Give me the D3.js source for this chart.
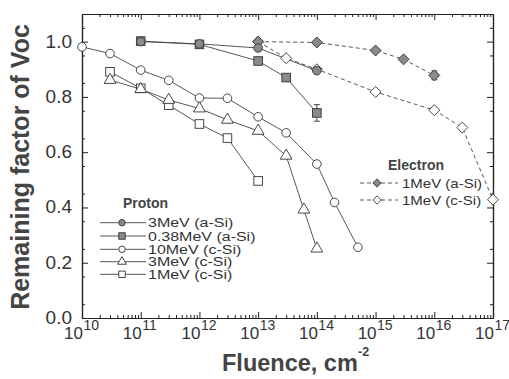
<!DOCTYPE html>
<html>
<head>
<meta charset="utf-8">
<script src="https://cdn.jsdelivr.net/npm/d3@7"></script>
<style>
  body { margin: 0; background: #fff; }
  text { font-family: Arial, "Liberation Sans", sans-serif; fill: #333; }
</style>
</head>
<body>
<div id="chart"></div>
<script>
// proton series
const p3MeVaSiX = [1e11, 1e12, 1e13, 1e14]
const p3MeVaSiY = [1.0, 0.992, 0.977, 0.895]
const p038MeVaSiX = [1e11, 1e12, 1e13, 3e13, 1e14]
const p038MeVaSiY = [1.002, 0.99, 0.93, 0.87, 0.742]
const p10MeVcSiX = [1e10, 3e10, 1e11, 3e11, 1e12, 3e12, 1e13, 3e13, 1e14, 2e14, 5e14]
const p10MeVcSiY = [0.981, 0.957, 0.897, 0.86, 0.796, 0.795, 0.728, 0.67, 0.557, 0.418, 0.256]
const p3MeVcSiX = [3e10, 1e11, 3e11, 1e12, 3e12, 1e13, 3e13, 6e13, 1e14]
const p3MeVcSiY = [0.861, 0.828, 0.789, 0.758, 0.717, 0.677, 0.587, 0.392, 0.251]
const p1MeVcSiX = [3e10, 1e11, 3e11, 1e12, 3e12, 1e13]
const p1MeVcSiY = [0.891, 0.831, 0.77, 0.702, 0.651, 0.496]
// electron series
const e1MeVaSiX = [1e13, 1e14, 1e15, 3e15, 1e16]
const e1MeVaSiY = [1.0, 0.997, 0.968, 0.936, 0.878]
const e1MeVcSiX = [1e13, 3e13, 1e14, 1e15, 1e16, 3e16, 1e17]
const e1MeVcSiY = [1.0, 0.94, 0.9, 0.818, 0.752, 0.689, 0.428]
// error bars: [x, y, half-height]
const errBars = [[1e14, 0.742, 0.03], [1e16, 0.878, 0.016]]

const protonLabels = ['3MeV (a-Si)', '0.38MeV (a-Si)', '10MeV (c-Si)', '3MeV (c-Si)', '1MeV (c-Si)']
const electronLabels = ['1MeV (a-Si)', '1MeV (c-Si)']
const xTickExps = [10, 11, 12, 13, 14, 15, 16, 17]
const yTicks = [0, 0.2, 0.4, 0.6, 0.8, 1.0]

const W = 509, H = 379
const pl = 82, pr = 493, pt = 14, pb = 318

let svg = d3.select('#chart').append('svg')
  .attr('width', W)
  .attr('height', H)

let x = d3.scaleLog().domain([1e10, 1e17]).range([pl, pr])
let y = d3.scaleLinear().domain([0, 1.1]).range([pb, pt])

// minor log ticks
let minorX = []
for (let e = 10; e < 17; e++) {
  for (let m = 2; m < 10; m++) minorX.push(m * Math.pow(10, e))
}
let majorX = xTickExps.map(e => Math.pow(10, e))
let minorY = d3.range(0.05, 1.1, 0.1)

function styleAxis(g) {
  g.select('.domain').attr('stroke', '#222').attr('stroke-width', 1.2)
  g.selectAll('.tick line').attr('stroke', '#222')
  g.selectAll('.tick text').remove()
}

svg.append('g').attr('transform', `translate(0,${pb})`)
  .call(d3.axisBottom(x).tickValues(majorX).tickSize(-6).tickSizeOuter(0)).call(styleAxis)
svg.append('g').attr('transform', `translate(0,${pb})`)
  .call(d3.axisBottom(x).tickValues(minorX).tickSize(-3).tickSizeOuter(0)).call(styleAxis)
svg.append('g').attr('transform', `translate(0,${pt})`)
  .call(d3.axisTop(x).tickValues(majorX).tickSize(-6).tickSizeOuter(0)).call(styleAxis)
svg.append('g').attr('transform', `translate(0,${pt})`)
  .call(d3.axisTop(x).tickValues(minorX).tickSize(-3).tickSizeOuter(0)).call(styleAxis)
svg.append('g').attr('transform', `translate(${pl},0)`)
  .call(d3.axisLeft(y).tickValues(yTicks).tickSize(-6).tickSizeOuter(0)).call(styleAxis)
svg.append('g').attr('transform', `translate(${pl},0)`)
  .call(d3.axisLeft(y).tickValues(minorY).tickSize(-3).tickSizeOuter(0)).call(styleAxis)
svg.append('g').attr('transform', `translate(${pr},0)`)
  .call(d3.axisRight(y).tickValues(yTicks).tickSize(-6).tickSizeOuter(0)).call(styleAxis)
svg.append('g').attr('transform', `translate(${pr},0)`)
  .call(d3.axisRight(y).tickValues(minorY).tickSize(-3).tickSizeOuter(0)).call(styleAxis)

// tick labels
svg.selectAll('.ylab').data(yTicks).enter().append('text')
  .attr('x', 72)
  .attr('y', d => y(d) + 6)
  .attr('text-anchor', 'end')
  .style('font-size', '19px')
  .text(d => d.toFixed(1))

let xl = svg.selectAll('.xlab').data(xTickExps).enter().append('g')
xl.append('text')
  .attr('x', d => x(Math.pow(10, d)) + 1)
  .attr('y', 339)
  .attr('text-anchor', 'end')
  .style('font-size', '17px')
  .text('10')
xl.append('text')
  .attr('x', d => x(Math.pow(10, d)) + 1.5)
  .attr('y', 330)
  .style('font-size', '14px')
  .text(d => d)

// axis titles
svg.append('text')
  .attr('transform', `translate(29,${(pt + pb) / 2 + 1}) rotate(-90)`)
  .attr('text-anchor', 'middle')
  .style('font-size', '25px')
  .style('font-weight', 'bold')
  .style('fill', '#444')
  .text('Remaining factor of Voc')

svg.append('text')
  .attr('x', 222)
  .attr('y', 371)
  .style('font-size', '23.5px')
  .style('font-weight', 'bold')
  .style('fill', '#444')
  .text('Fluence, cm')
svg.append('text')
  .attr('x', 358)
  .attr('y', 356)
  .style('font-size', '12.5px')
  .style('font-weight', 'bold')
  .style('fill', '#444')
  .text('-2')

// markers
function marker(g, type, size) {
  let s = size || 1
  if (type === 'circle' || type === 'fcircle') {
    g.append('circle').attr('r', 4.3 * s)
      .attr('fill', type === 'fcircle' ? '#8a8a8a' : '#fff')
      .attr('stroke', '#333').attr('stroke-width', 0.9)
  } else if (type === 'square' || type === 'fsquare') {
    g.append('rect').attr('x', -4.3 * s).attr('y', -4.3 * s).attr('width', 8.6 * s).attr('height', 8.6 * s)
      .attr('fill', type === 'fsquare' ? '#8a8a8a' : '#fff')
      .attr('stroke', '#333').attr('stroke-width', 0.9)
  } else if (type === 'triangle') {
    g.append('path').attr('d', d3.symbol(d3.symbolTriangle, 60 * s * s)())
      .attr('fill', '#fff').attr('stroke', '#333').attr('stroke-width', 0.9)
  } else if (type === 'diamond' || type === 'fdiamond') {
    let r = 5.5 * s
    g.append('path').attr('d', `M0,${-r}L${r},0L0,${r}L${-r},0Z`)
      .attr('fill', type === 'fdiamond' ? '#8a8a8a' : '#fff')
      .attr('stroke', '#333').attr('stroke-width', 0.9)
  }
}

let series = [
  { xs: e1MeVcSiX, ys: e1MeVcSiY, type: 'diamond', dash: '4,3' },
  { xs: e1MeVaSiX, ys: e1MeVaSiY, type: 'fdiamond', dash: '4,3' },
  { xs: p1MeVcSiX, ys: p1MeVcSiY, type: 'square' },
  { xs: p3MeVcSiX, ys: p3MeVcSiY, type: 'triangle' },
  { xs: p10MeVcSiX, ys: p10MeVcSiY, type: 'circle' },
  { xs: p038MeVaSiX, ys: p038MeVaSiY, type: 'fsquare' },
  { xs: p3MeVaSiX, ys: p3MeVaSiY, type: 'fcircle' }
]

let line = d3.line().x(d => x(d[0])).y(d => y(d[1]))

series.forEach(s => {
  let pts = s.xs.map((v, i) => [v, s.ys[i]])
  svg.append('path').datum(pts)
    .attr('d', line)
    .attr('fill', 'none')
    .attr('stroke', '#444')
    .attr('stroke-width', 0.9)
    .attr('stroke-dasharray', s.dash || null)
})

svg.selectAll('.err').data(errBars).enter().append('path')
  .attr('d', d => {
    let cx = x(d[0]), y0 = y(d[1] - d[2]), y1 = y(d[1] + d[2])
    return `M${cx},${y0}V${y1}M${cx - 3},${y0}H${cx + 3}M${cx - 3},${y1}H${cx + 3}`
  })
  .attr('stroke', '#333').attr('fill', 'none').attr('stroke-width', 0.9)

series.forEach(s => {
  s.xs.forEach((v, i) => {
    let g = svg.append('g').attr('transform', `translate(${x(v)},${y(s.ys[i])})`)
    marker(g, s.type)
  })
})

// legend text is a bit wider than plain Arial in the scan, so stretch it
function legendText(tx, ty, str, sx) {
  svg.append('text')
    .attr('transform', `translate(${tx},${ty}) scale(${sx},1)`)
    .style('font-size', '12.5px')
    .text(str)
}

// proton legend
svg.append('text').attr('x', 123).attr('y', 208)
  .style('font-size', '14px').style('font-weight', 'bold').style('fill', '#444')
  .text('Proton')
let pTypes = ['fcircle', 'fsquare', 'circle', 'triangle', 'square']
let pRows = [222.7, 236, 249.3, 261.7, 274.3]
protonLabels.forEach((lab, i) => {
  svg.append('line').attr('x1', 100).attr('x2', 146).attr('y1', pRows[i]).attr('y2', pRows[i])
    .attr('stroke', '#444').attr('stroke-width', 0.9)
  marker(svg.append('g').attr('transform', `translate(122,${pRows[i]})`), pTypes[i], 0.75)
  legendText(148, pRows[i] + 4.5, lab, 1.28)
})

// electron legend
svg.append('text').attr('x', 388).attr('y', 170)
  .style('font-size', '14px').style('font-weight', 'bold').style('fill', '#444')
  .text('Electron')
let eTypes = ['fdiamond', 'diamond']
let eRows = [183, 200]
electronLabels.forEach((lab, i) => {
  svg.append('line').attr('x1', 360).attr('x2', 398).attr('y1', eRows[i]).attr('y2', eRows[i])
    .attr('stroke', '#444').attr('stroke-width', 0.9).attr('stroke-dasharray', '4,3')
  marker(svg.append('g').attr('transform', `translate(377,${eRows[i]})`), eTypes[i], 0.75)
  legendText(402, eRows[i] + 4.5, lab, 1.2)
})
</script>
</body>
</html>
